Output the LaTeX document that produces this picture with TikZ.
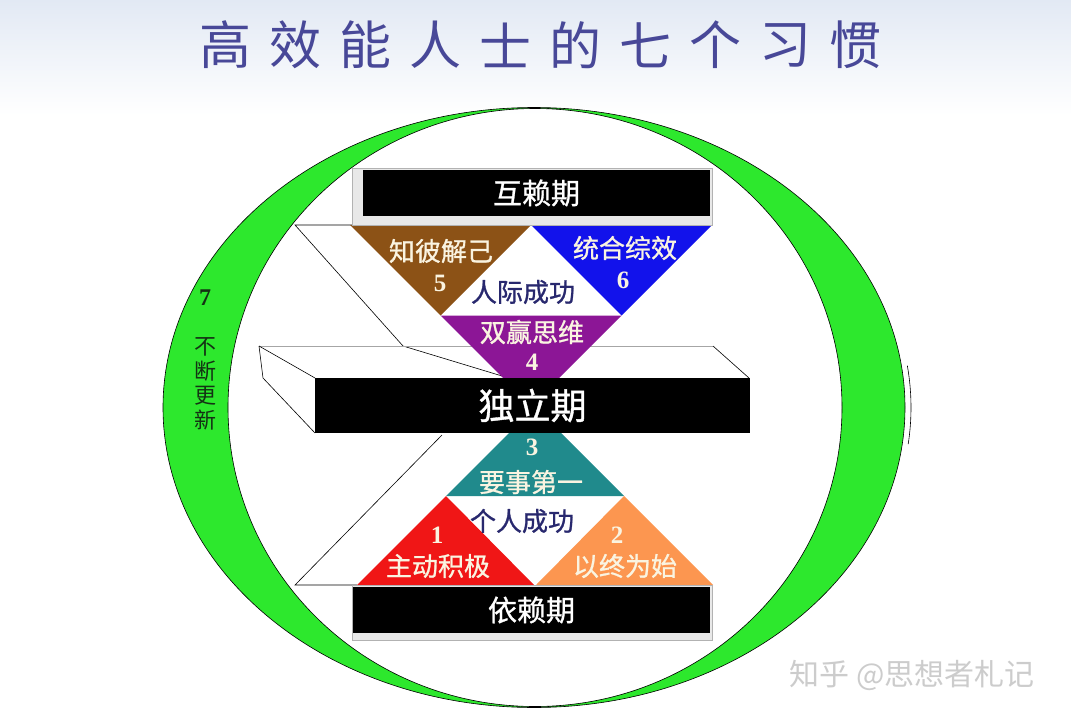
\documentclass[tikz,border=0pt]{standalone}
\usepackage{fontspec}
\newfontfamily\cjk{Noto Sans CJK SC}
\newfontfamily\cjkb[FakeBold=1]{Noto Sans CJK SC}
\newfontfamily\numfont{Liberation Serif}
\definecolor{bgblue}{RGB}{226,233,244}
\definecolor{ringgreen}{RGB}{45,232,45}
\definecolor{habbrown}{RGB}{140,82,22}
\definecolor{habblue}{RGB}{18,18,235}
\definecolor{habpurple}{RGB}{140,22,150}
\definecolor{habteal}{RGB}{32,138,140}
\definecolor{habred}{RGB}{240,22,22}
\definecolor{haborange}{RGB}{252,150,80}
\definecolor{titleblue}{RGB}{72,72,152}
\definecolor{navy}{RGB}{40,40,110}
\definecolor{cream}{RGB}{250,244,225}
\definecolor{darkgreen}{RGB}{20,50,20}

\begin{document}
\begin{tikzpicture}[
x=1pt,y=-1pt,
every node/.style={inner sep=0pt},
titlech/.style={text=titleblue,font=\cjk\fontsize{52}{52}\selectfont},
bar/.style={fill=black,text=white,font=\cjkb\fontsize{29}{29}\selectfont},
habit/.style={text=cream,font=\cjkb\fontsize{26}{26}\selectfont},
num/.style={text=cream,font=\numfont\bfseries\fontsize{25}{25}\selectfont},
success/.style={text=navy,font=\cjkb\fontsize{26}{26}\selectfont},
renew/.style={text=darkgreen,font=\cjk\fontsize{22}{22}\selectfont},
outline/.style={draw=black,line width=0.6pt}
]
\useasboundingbox (0,0) rectangle (1071,720);
\fill[white] (0,0) rectangle (1071,720);
\shade[top color=bgblue,bottom color=white] (0,0) rectangle (1071,115);

\foreach \c [count=\i] in {高,效,能,人,士,的,七,个,习,惯}
  \node[titlech] (t\i) at ({225+70*(\i-1)},45) {\c};

\coordinate (c) at (534,407.5);
\filldraw[fill=ringgreen,outline,even odd rule] (c) ellipse [x radius=371,y radius=300]
  (535,407.5) ellipse [x radius=307,y radius=299];
\draw[outline] ([shift={(534,407.5)}]-8:377 and 301) arc [start angle=-8,end angle=7,x radius=377,y radius=301];

\draw[outline] (352,225) -- (295,225) -- (403,346) -- (502,376);
\draw[gray!70,line width=0.6pt] (259,346) -- (713,346);
\draw[outline] (713,346) -- (749,378);
\draw[outline] (259,346) -- (315,378);
\draw[outline] (259,346) -- (263,378) -- (315,433);
\draw[outline] (442,435) -- (295,585) -- (357,585);

\fill[habbrown] (350,225) -- (531,225) -- (440.5,315.5) -- cycle;
\fill[habblue] (531,225) -- (712,225) -- (621.5,315.5) -- cycle;
\fill[habpurple] (440.5,315.5) -- (621.5,315.5) -- (531,406) -- cycle;
\fill[habteal] (535,407) -- (624,496) -- (446,496) -- cycle;
\fill[habred] (357,585) -- (534,585) -- (446,496) -- cycle;
\fill[haborange] (536,585) -- (713,585) -- (624,496) -- cycle;

\filldraw[fill=gray!18,draw=gray!60] (352,168) rectangle (712,225);
\filldraw[fill=gray!18,draw=gray!60] (352,585) rectangle (712,640);
\node[bar,minimum width=347,minimum height=46] (hulai) at (536.5,193) {互赖期};
\node[bar,minimum width=435,minimum height=55,font=\cjkb\fontsize{36}{36}\selectfont] (duli) at (532.5,405.5) {独立期};
\node[bar,minimum width=357,minimum height=46] (yilai) at (531.5,610) {依赖期};

\node[habit] (h5) at (441,251) {知彼解己};
\node[num] (n5) at (440,283) {5};
\node[habit] (h6) at (625,248) {统合综效};
\node[num] (n6) at (623,280) {6};
\node[success] (inter) at (523,292) {人际成功};
\node[habit] (h4) at (532,332) {双赢思维};
\node[num] (n4) at (532,362) {4};
\node[num] (n3) at (532,447) {3};
\node[habit] (h3) at (531,482) {要事第一};
\node[success] (indep) at (522,521) {个人成功};
\node[num] (n1) at (437,535) {1};
\node[habit] (h1) at (438,566) {主动积极};
\node[num] (n2) at (617,535) {2};
\node[habit] (h2) at (625,566) {以终为始};

\node[renew,font=\numfont\bfseries\fontsize{24}{24}\selectfont] (n7) at (205,298) {7};
\foreach \c [count=\i] in {不,断,更,新}
  \node[renew] (r\i) at (205,{322+24.5*\i}) {\c};

\node[text=gray!40,font=\cjk\fontsize{30}{30}\selectfont] (mark) at (912,675) {知乎 @思想者札记};
\end{tikzpicture}
\end{document}
